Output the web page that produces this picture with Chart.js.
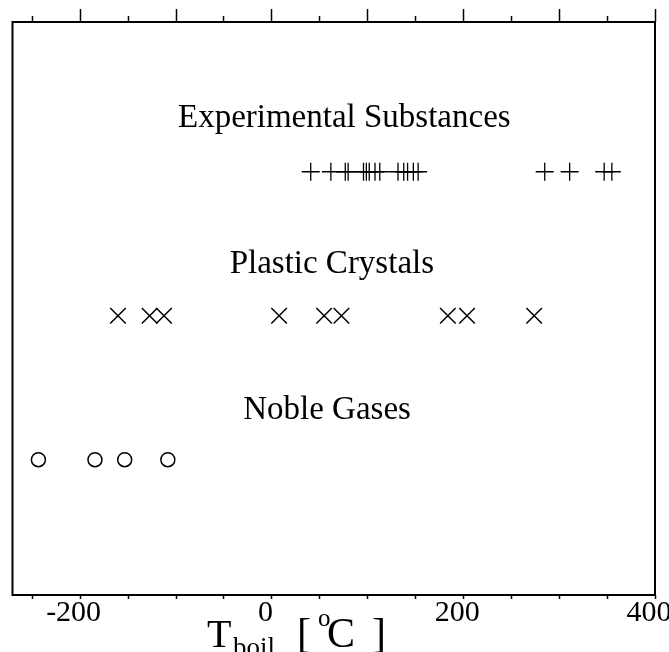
<!DOCTYPE html>
<html>
<head>
<meta charset="utf-8">
<script src="https://cdn.jsdelivr.net/npm/chart.js@4/dist/chart.umd.min.js"></script>
<style>
  html, body { margin: 0; padding: 0; background: #fff; }
  #wrap { width: 669px; height: 652px; }
</style>
</head>
<body>
<div id="wrap"><canvas id="chart" width="669" height="652"></canvas></div>
<script>
// Boiling temperatures in degrees Celsius, one array per group
const nobleGases = [-243, -184, -153, -108];
const plasticCrystals = [-160, -127, -112, 8, 55, 73, 184, 204, 274];
const experimentalSubstances = [41, 62, 77, 80, 96, 99, 102, 108, 113, 132, 138, 142, 148, 153, 285, 311, 347, 355];

// Group names and the row each group sits on
const groupNames = ['Noble Gases', 'Plastic Crystals', 'Experimental Substances'];
const groupRows = [1, 2, 3];

// Axis ticks
const xTickValues = [-200, 0, 200, 400];
const minorTickValues = [-250, -200, -150, -100, -50, 0, 50, 100, 150, 200, 250, 300, 350, 400];
const majorTopTicks = [-200, -100, 0, 100, 200, 300, 400];

const X_MIN = -270, X_MAX = 400;
const SERIF = '"Liberation Serif", "DejaVu Serif", serif';
const groupLabelX = [58, 63, 76];
const groupLabelOffset = [0.34, 0.36, 0.37];

function rows(values, row) { return values.map(v => ({ x: v, y: row })); }

const decorPlugin = {
  id: 'decor',
  afterDraw(chart) {
    const { ctx, chartArea: a, scales } = chart;
    const xs = scales.x, ys = scales.y;
    ctx.save();
    ctx.strokeStyle = '#000';
    ctx.lineCap = 'butt';

    // frame
    ctx.lineWidth = 2;
    ctx.strokeRect(a.left, a.top, a.right - a.left, a.bottom - a.top);

    // ticks on the top edge (pointing up) and bottom edge (pointing down)
    ctx.lineWidth = 1.5;
    minorTickValues.forEach(v => {
      const px = Math.round(xs.getPixelForValue(v)) + 0.5;
      const tall = majorTopTicks.includes(v);
      ctx.beginPath();
      ctx.moveTo(px, a.top);
      ctx.lineTo(px, a.top - (tall ? 13 : 6));
      ctx.stroke();
      ctx.beginPath();
      ctx.moveTo(px, a.bottom);
      ctx.lineTo(px, a.bottom + 4);
      ctx.stroke();
    });

    // group names
    ctx.fillStyle = '#000';
    ctx.font = '33px ' + SERIF;
    ctx.textAlign = 'center';
    ctx.textBaseline = 'middle';
    groupNames.forEach((name, i) => {
      ctx.fillText(name, xs.getPixelForValue(groupLabelX[i]), ys.getPixelForValue(groupRows[i] + groupLabelOffset[i]));
    });

    // axis title: T_boil [ °C ]
    const base = 647;
    ctx.textAlign = 'left';
    ctx.textBaseline = 'alphabetic';
    ctx.font = '40px ' + SERIF;
    ctx.fillText('T', 207, base);
    ctx.font = '27px ' + SERIF;
    ctx.fillText('boil', 233, base + 9);
    ctx.font = '42px ' + SERIF;
    ctx.fillText('[', 297, base);
    ctx.font = '25px ' + SERIF;
    ctx.fillText('o', 318, base - 21);
    ctx.font = '42px ' + SERIF;
    ctx.fillText('C', 327, base);
    ctx.fillText(']', 372, base);
    ctx.restore();
  }
};

new Chart(document.getElementById('chart'), {
  type: 'scatter',
  data: {
    datasets: [
      {
        label: groupNames[0],
        data: rows(nobleGases, groupRows[0]),
        pointStyle: 'circle',
        pointRadius: 7,
        borderColor: '#000',
        backgroundColor: 'rgba(0,0,0,0)',
        borderWidth: 1.5
      },
      {
        label: groupNames[1],
        data: rows(plasticCrystals, groupRows[1]),
        pointStyle: 'crossRot',
        pointRadius: 11,
        borderColor: '#000',
        borderWidth: 1.5
      },
      {
        label: groupNames[2],
        data: rows(experimentalSubstances, groupRows[2]),
        pointStyle: 'cross',
        pointRadius: 9,
        borderColor: '#000',
        borderWidth: 1.3
      }
    ]
  },
  options: {
    responsive: false,
    devicePixelRatio: 1,
    animation: false,
    events: [],
    layout: { padding: { left: 11, right: 14, top: 22, bottom: 0 } },
    plugins: { legend: { display: false }, tooltip: { enabled: false } },
    scales: {
      x: {
        type: 'linear',
        position: 'bottom',
        min: X_MIN,
        max: X_MAX,
        afterBuildTicks: s => { s.ticks = xTickValues.map(v => ({ value: v })); },
        afterFit: s => { s.height = 57; s.paddingLeft = 0; s.paddingRight = 0; },
        grid: { display: false },
        border: { display: false },
        ticks: {
          color: '#000',
          font: { family: SERIF, size: 30 },
          padding: -8,
          labelOffset: -6,
          maxRotation: 0,
          autoSkip: false
        }
      },
      y: {
        type: 'linear',
        min: 0.06,
        max: 4.04,
        display: false
      }
    }
  },
  plugins: [decorPlugin]
});
</script>
</body>
</html>
